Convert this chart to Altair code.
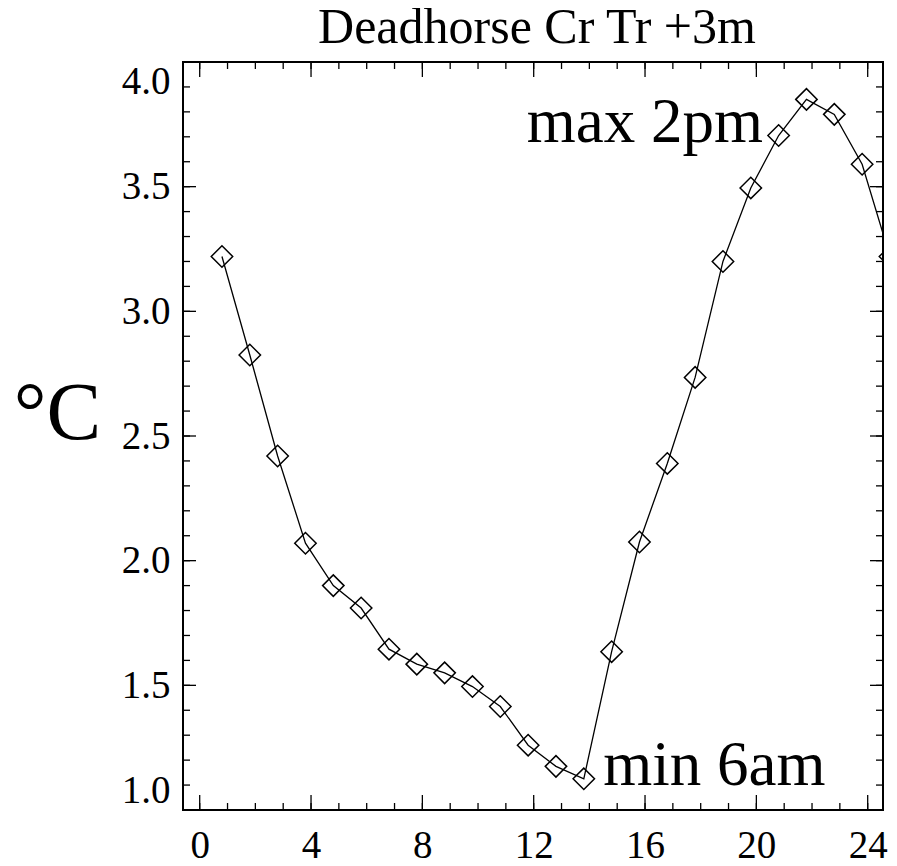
import altair as alt
import pandas as pd

# ---- data ----
hours = [0.8, 1.8, 2.8, 3.8, 4.8, 5.8, 6.8, 7.8, 8.8, 9.8, 10.8, 11.8, 12.8,
         13.8, 14.8, 15.8, 16.8, 17.8, 18.8, 19.8, 20.8, 21.8, 22.8, 23.8, 24.8]
temps = [3.22, 2.825, 2.42, 2.07, 1.90, 1.81, 1.645, 1.585, 1.55, 1.495, 1.415,
         1.26, 1.175, 1.125, 1.635, 2.075, 2.39, 2.735, 3.20, 3.495, 3.705,
         3.85, 3.79, 3.59, 3.22]

x_major_ticks = [0, 4, 8, 12, 16, 20, 24]
x_minor_ticks = [0, 1, 2, 3, 4, 5, 6, 7, 8, 9, 10, 11, 12, 13, 14, 15, 16, 17,
                 18, 19, 20, 21, 22, 23, 24]
y_major_ticks = [1.0, 1.5, 2.0, 2.5, 3.0, 3.5, 4.0]
y_minor_ticks = [1.0, 1.1, 1.2, 1.3, 1.4, 1.5, 1.6, 1.7, 1.8, 1.9, 2.0, 2.1,
                 2.2, 2.3, 2.4, 2.5, 2.6, 2.7, 2.8, 2.9, 3.0, 3.1, 3.2, 3.3,
                 3.4, 3.5, 3.6, 3.7, 3.8, 3.9, 4.0]

ann_x = [11.75, 14.5]
ann_y = [3.68, 1.10]
ann_text = ["max 2pm", "min 6am"]

title_text = "Deadhorse Cr Tr +3m"
y_title = "°C"

# ---- layout / style ----
W, H = 700, 748
FONT = "Liberation Serif"
xs = alt.Scale(domain=[-0.6, 24.55], nice=False, zero=False)
ys = alt.Scale(domain=[1.0, 4.0], nice=False, zero=False)

df = pd.DataFrame({"hour": hours, "temp": temps})
ann_df = pd.DataFrame({"x": ann_x, "y": ann_y, "label": ann_text})

x_axis = alt.Axis(values=x_major_ticks, title=None, domain=False, ticks=False,
                  tickSize=0, grid=False, labelFont=FONT, labelFontSize=39,
                  labelColor="black", labelPadding=47,
                  labelBaseline="alphabetic", labelFlush=False,
                  labelOverlap=False)
y_axis = alt.Axis(values=y_major_ticks, format=".1f", title=y_title,
                  titleAngle=0, titleX=-126, titleY=376, titleAlign="center",
                  titleBaseline="alphabetic", titleFont=FONT, titleFontSize=82,
                  titleFontWeight="normal", titleColor="black", domain=False,
                  ticks=False, tickSize=0, grid=False, labelFont=FONT,
                  labelFontSize=39, labelColor="black", labelPadding=13,
                  labelFlush=True, labelOverlap=False)


def X(field):
    return alt.X(field, type="quantitative", scale=xs, axis=x_axis)


def Y(field):
    return alt.Y(field, type="quantitative", scale=ys, axis=y_axis)


line = alt.Chart(df).mark_line(color="black", strokeWidth=1.3, clip=True).encode(
    x=X("hour"), y=Y("temp"),
)
points = alt.Chart(df).mark_point(shape="diamond", filled=False, size=460,
                                  strokeWidth=1.5, color="black", opacity=1,
                                  clip=True).encode(
    x=X("hour"), y=Y("temp"),
)


def xticks(vals, length, top):
    d = pd.DataFrame({"v": vals})
    if top:
        yy, yy2 = alt.value(0), alt.value(length)
    else:
        yy, yy2 = alt.value(H), alt.value(H - length)
    return alt.Chart(d).mark_rule(color="black", strokeWidth=1.3).encode(
        x=X("v"), y=yy, y2=yy2)


def yticks(vals, length, right):
    d = pd.DataFrame({"v": vals})
    if right:
        xx, xx2 = alt.value(W), alt.value(W - length)
    else:
        xx, xx2 = alt.value(0), alt.value(length)
    return alt.Chart(d).mark_rule(color="black", strokeWidth=1.3).encode(
        y=Y("v"), x=xx, x2=xx2)


ticks = [
    xticks(x_minor_ticks, 7, False), xticks(x_minor_ticks, 7, True),
    xticks(x_major_ticks, 15, False), xticks(x_major_ticks, 15, True),
    yticks(y_minor_ticks, 7, False), yticks(y_minor_ticks, 7, True),
    yticks(y_major_ticks, 13, False), yticks(y_major_ticks, 13, True),
]

labels = alt.Chart(ann_df).mark_text(align="left", baseline="alphabetic",
                                     font=FONT, fontSize=63,
                                     color="black").encode(
    x=X("x"), y=Y("y"), text="label:N",
)

chart = alt.layer(line, points, *ticks, labels).properties(
    width=W, height=H,
    autosize=alt.AutoSizeParams(type="none"),
    padding={"left": 175, "top": 54, "right": 6, "bottom": 62},
    background="white",
    title=alt.TitleParams(title_text, font=FONT, fontSize=50,
                          fontWeight="normal", color="black", frame="group",
                          anchor="middle", offset=8, dx=4),
).configure_view(stroke="black", strokeWidth=2)

chart.save("out.html", embed_options={"renderer": "svg", "actions": False})
